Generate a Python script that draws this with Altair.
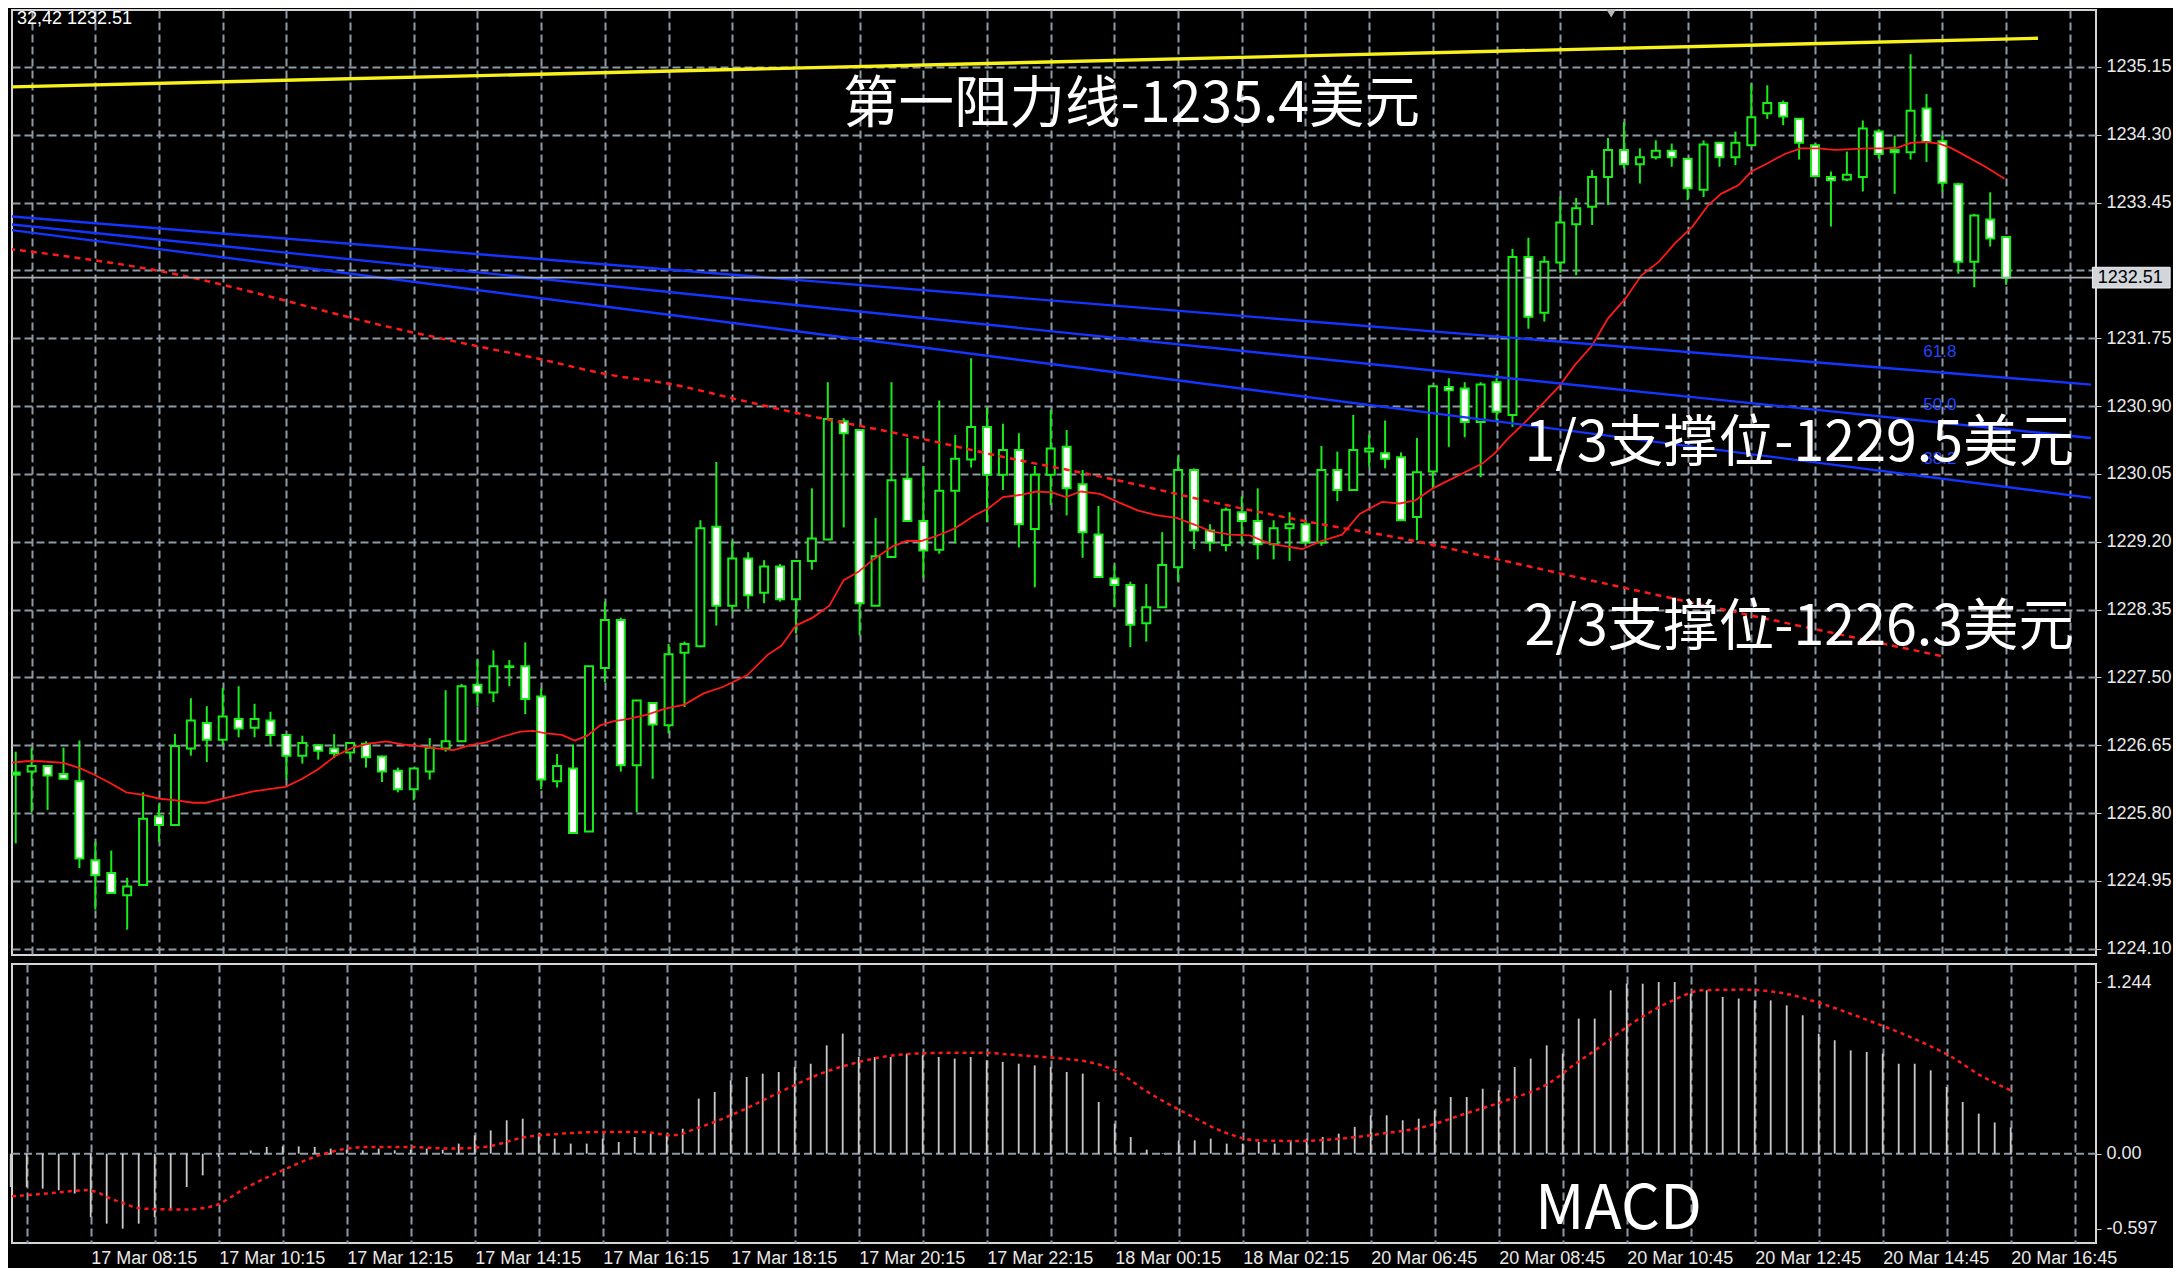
import altair as alt
import pandas as pd

# ---------------- data ----------------
opens = [1226.31,1226.32,1226.39,1226.29,1226.20,1225.21,1225.05,1224.77,1224.90,1225.76,
         1225.65,1226.61,1226.93,1226.72,1226.98,1226.87,1226.96,1226.78,1226.52,1226.65,
         1226.61,1226.56,1226.67,1226.51,1226.33,1226.10,1226.32,1226.61,1226.70,1227.41,
         1227.31,1227.64,1227.64,1227.26,1226.20,1226.36,1225.57,1227.62,1228.22,1226.40,
         1227.18,1226.90,1227.81,1227.89,1229.39,1228.40,1228.99,1228.56,1228.89,1228.48,
         1228.96,1229.23,1230.71,1230.60,1228.40,1229.01,1229.99,1229.46,1229.10,1229.84,
         1230.23,1230.64,1230.04,1230.35,1229.36,1230.04,1230.39,1229.92,1229.29,1228.74,
         1228.66,1228.18,1228.38,1228.88,1230.10,1229.34,1229.16,1229.57,1229.46,1229.17,
         1229.37,1229.42,1229.19,1230.10,1229.85,1230.33,1230.31,1230.26,1229.51,1230.08,
         1231.14,1231.12,1230.70,1231.20,1230.79,1232.77,1232.07,1232.70,1233.18,1233.40,
         1233.77,1234.11,1233.93,1234.02,1234.10,1234.00,1233.61,1234.20,1234.02,1234.17,
         1234.57,1234.70,1234.50,1234.17,1233.77,1233.74,1233.77,1234.34,1234.11,1234.08,
         1234.63,1234.22,1233.68,1232.71,1233.24,1233.02]
highs = [1226.57,1226.62,1226.40,1226.62,1226.71,1225.44,1225.33,1224.99,1226.06,1225.91,
         1226.79,1227.24,1227.14,1227.37,1227.39,1227.17,1227.07,1226.78,1226.77,1226.66,
         1226.79,1226.69,1226.70,1226.52,1226.37,1226.37,1226.74,1227.34,1227.42,1227.72,
         1227.84,1227.72,1227.94,1227.36,1226.54,1226.66,1227.64,1228.45,1228.25,1227.22,
         1227.19,1227.92,1227.95,1229.47,1230.20,1229.21,1229.07,1228.97,1228.92,1228.96,
         1229.87,1231.20,1230.75,1230.61,1229.50,1231.20,1230.50,1230.15,1230.97,1230.54,
         1231.50,1230.88,1230.68,1230.56,1230.15,1230.85,1230.60,1230.10,1229.65,1228.91,
         1228.70,1228.67,1229.32,1230.27,1230.12,1229.42,1229.63,1229.77,1229.87,1229.47,
         1229.57,1229.47,1230.40,1230.33,1230.79,1230.54,1230.72,1230.32,1230.50,1231.16,
         1231.25,1231.20,1231.20,1231.30,1232.87,1233.01,1232.78,1233.52,1233.51,1233.86,
         1234.26,1234.46,1234.13,1234.23,1234.19,1234.01,1234.23,1234.21,1234.34,1234.94,
         1234.92,1234.73,1234.50,1234.19,1233.84,1234.09,1234.48,1234.37,1234.29,1235.31,
         1234.81,1234.29,1233.70,1233.31,1233.58,1233.03]
lows = [1225.42,1225.81,1225.84,1226.23,1225.11,1224.59,1224.79,1224.34,1224.89,1225.44,
        1225.64,1226.52,1226.44,1226.65,1226.75,1226.75,1226.65,1226.22,1226.42,1226.47,
        1226.49,1226.48,1226.37,1226.19,1226.06,1225.96,1226.22,1226.57,1226.69,1227.14,
        1227.19,1227.39,1227.04,1226.10,1226.12,1225.54,1225.57,1227.44,1226.32,1225.81,
        1226.23,1226.80,1227.13,1227.88,1228.15,1228.33,1228.36,1228.43,1228.45,1228.05,
        1228.85,1229.22,1229.38,1228.03,1228.40,1229.00,1229.46,1228.75,1229.05,1229.18,
        1230.13,1229.45,1229.85,1229.13,1228.63,1229.66,1229.53,1229.00,1228.76,1228.38,
        1227.88,1227.95,1228.38,1228.70,1229.11,1229.08,1229.08,1229.16,1228.98,1228.98,
        1228.96,1229.18,1229.15,1229.71,1229.85,1230.14,1230.12,1229.46,1229.22,1229.87,
        1230.39,1230.51,1230.01,1230.72,1230.64,1231.87,1231.96,1232.57,1232.54,1233.17,
        1233.42,1233.88,1233.69,1233.99,1233.90,1233.48,1233.52,1233.90,1233.92,1234.16,
        1234.50,1234.42,1233.99,1233.77,1233.15,1233.72,1233.59,1234.00,1233.56,1233.99,
        1233.96,1233.59,1232.56,1232.39,1232.90,1232.42]
closes = [1226.28,1226.39,1226.27,1226.23,1225.23,1225.02,1224.80,1224.88,1225.73,1225.65,
          1226.64,1226.96,1226.72,1227.01,1226.86,1226.98,1226.78,1226.52,1226.68,1226.58,
          1226.55,1226.68,1226.50,1226.32,1226.10,1226.36,1226.62,1226.70,1227.39,1227.31,
          1227.64,1227.63,1227.23,1226.22,1226.39,1225.55,1227.64,1228.22,1226.40,1227.21,
          1226.91,1227.79,1227.92,1229.37,1228.40,1228.99,1228.53,1228.89,1228.48,1228.96,
          1229.24,1230.74,1230.56,1228.43,1229.02,1229.97,1229.46,1229.09,1229.84,1230.24,
          1230.64,1230.04,1230.35,1229.42,1230.04,1230.37,1229.87,1229.32,1228.76,1228.66,
          1228.16,1228.38,1228.91,1230.10,1229.34,1229.19,1229.60,1229.46,1229.17,1229.37,
          1229.42,1229.19,1230.10,1229.85,1230.35,1230.37,1230.24,1229.47,1230.07,1231.15,
          1231.10,1230.70,1231.17,1230.83,1232.77,1232.02,1232.71,1233.20,1233.38,1233.77,
          1234.11,1233.93,1234.02,1234.10,1234.02,1233.63,1234.18,1234.02,1234.20,1234.52,
          1234.70,1234.53,1234.20,1233.78,1233.73,1233.80,1234.38,1234.06,1234.08,1234.60,
          1234.21,1233.70,1232.71,1233.29,1233.00,1232.51]

# short moving average (solid red) sampled along the curve
ma_x = [-0.42,0.63,1.56,3.0,4.06,4.84,5.9,6.95,8.0,9.05,10.1,11.16,11.95,12.74,13.8,14.85,15.9,
        16.95,18.0,19.06,20.1,21.16,22.2,23.27,24.3,25.37,26.42,27.5,28.5,29.6,30.6,31.7,32.5,
        33.3,34.3,35.1,35.9,36.7,37.5,38.5,39.6,40.8,42.0,43.2,44.4,45.95,47.2,48.1,49.0,50.05,
        51.1,52.0,52.9,53.8,55.05,55.95,56.85,57.8,59.0,60.2,61.1,62.0,63.2,64.1,65.05,65.95,
        66.9,68.1,69.3,70.5,71.7,72.9,74.1,75.05,76.3,77.5,78.7,79.6,80.8,82.0,83.3,84.4,85.8,
        86.9,87.9,89.0,90.0,91.1,92.1,92.9,93.7,94.8,95.8,96.9,97.9,99.0,100.0,101.1,102.1,
        103.2,104.2,105.3,106.3,107.1,108.2,109.0,110.0,111.1,112.1,113.2,114.2,115.3,116.3,
        117.4,118.2,119.0,120.0,120.8,121.6,122.6,123.7,124.9]
ma_v = [1226.43,1226.45,1226.45,1226.43,1226.36,1226.29,1226.18,1226.06,1226.03,1225.98,1225.96,
        1225.93,1225.93,1225.97,1226.02,1226.07,1226.10,1226.13,1226.23,1226.36,1226.52,1226.62,
        1226.67,1226.70,1226.66,1226.64,1226.61,1226.59,1226.65,1226.69,1226.76,1226.82,1226.83,
        1226.80,1226.78,1226.71,1226.77,1226.90,1226.95,1226.98,1227.03,1227.11,1227.16,1227.30,
        1227.38,1227.53,1227.78,1227.90,1228.15,1228.25,1228.40,1228.72,1228.82,1228.97,1229.14,
        1229.21,1229.21,1229.27,1229.37,1229.53,1229.62,1229.76,1229.79,1229.83,1229.82,1229.76,
        1229.83,1229.80,1229.69,1229.59,1229.53,1229.50,1229.41,1229.33,1229.29,1229.28,1229.18,
        1229.15,1229.11,1229.21,1229.29,1229.55,1229.70,1229.68,1229.72,1229.87,1229.97,1230.08,
        1230.18,1230.31,1230.49,1230.70,1230.91,1231.14,1231.41,1231.66,1232.00,1232.25,1232.54,
        1232.71,1232.94,1233.15,1233.42,1233.56,1233.67,1233.84,1233.94,1234.06,1234.13,1234.13,
        1234.11,1234.12,1234.13,1234.13,1234.14,1234.20,1234.21,1234.19,1234.13,1234.02,1233.90,
        1233.75]

# long moving average (dashed red)
lma_x = [-0.42,8.3,24.8,28.8,32.9,37.1,41.3,45.4,49.6,55.8,62.1,68.3,76.0,82.0,87.1,93.3,97.5,120.9]
lma_v = [1232.87,1232.62,1231.83,1231.66,1231.49,1231.30,1231.17,1230.98,1230.79,1230.54,1230.26,
         1230.01,1229.66,1229.42,1229.24,1228.97,1228.78,1227.77]

# Fibonacci fan lines (start / end)
fan_names = ["61.8", "50.0", "38.2"]
fan_x = [-0.42, 130.33]
fan_start = [1233.28, 1233.18, 1233.11]
fan_end = [1231.17, 1230.50, 1229.75]
fan_label_x = 119.8
fan_label_y = [1231.58, 1230.91, 1230.24]

# resistance line (yellow)
res_x = [-0.42, 127.0]
res_v = [1234.90, 1235.51]

last_price = 1232.51

# MACD histogram
macd_hist = [-0.241,-0.241,-0.253,-0.265,-0.289,-0.459,-0.507,-0.543,-0.507,-0.459,
             -0.410,-0.241,-0.157,-0.024,0.005,0.024,0.049,0.053,0.053,0.049,
             0.037,0.029,0.024,0.037,0.024,0.029,0.037,0.029,0.073,0.133,
             0.169,0.242,0.254,0.145,0.109,0.073,0.073,0.109,0.085,0.121,
             0.145,0.133,0.181,0.399,0.447,0.532,0.556,0.580,0.592,0.628,
             0.652,0.785,0.870,0.701,0.701,0.701,0.725,0.713,0.701,0.689,
             0.701,0.677,0.665,0.652,0.640,0.628,0.592,0.580,0.375,0.218,
             0.121,0.029,0.005,0.097,0.097,0.109,0.073,0.073,0.085,0.073,
             0.097,0.109,0.121,0.145,0.194,0.278,0.278,0.242,0.254,0.314,
             0.411,0.411,0.471,0.459,0.628,0.689,0.785,0.725,0.979,0.979,
             1.184,1.232,1.232,1.244,1.244,1.160,1.184,1.136,1.124,1.111,
             1.111,1.075,1.003,0.870,0.822,0.749,0.737,0.725,0.652,0.652,
             0.604,0.483,0.375,0.290,0.226,0.190]
sig_x = [-0.42,2.19,4.8,6.54,8.28,10.9,12.6,14.8,17.0,19.6,22.2,24.8,27.4,29.6,32.2,34.4,37.0,
         39.6,41.3,43.1,45.7,48.3,50.9,52.6,55.2,57.8,60.4,63.1,65.7,67.4,69.2,70.9,73.5,76.1,
         77.8,80.5,83.1,85.7,88.3,90.9,93.5,96.1,97.8,99.6,101.3,103.9,105.7,108.3,110.9,113.5,
         116.1,118.7,121.3,123.1,125.0]
sig_v = [-0.314,-0.289,-0.265,-0.338,-0.398,-0.405,-0.381,-0.241,-0.120,0.0,0.049,0.049,0.037,
         0.049,0.121,0.145,0.157,0.157,0.133,0.193,0.314,0.459,0.592,0.652,0.713,0.730,0.732,
         0.713,0.689,0.664,0.592,0.459,0.290,0.145,0.097,0.092,0.109,0.145,0.193,0.290,0.387,
         0.508,0.652,0.797,0.942,1.111,1.184,1.189,1.160,1.075,0.966,0.846,0.701,0.568,0.459]

time_labels = ["17 Mar 08:15", "17 Mar 10:15", "17 Mar 12:15", "17 Mar 14:15", "17 Mar 16:15",
               "17 Mar 18:15", "17 Mar 20:15", "17 Mar 22:15", "18 Mar 00:15", "18 Mar 02:15",
               "20 Mar 06:45", "20 Mar 08:45", "20 Mar 10:45", "20 Mar 12:45", "20 Mar 14:45",
               "20 Mar 16:45"]
price_ticks = [1224.10, 1224.95, 1225.80, 1226.65, 1227.50, 1228.35, 1229.20, 1230.05,
               1230.90, 1231.75, 1232.60, 1233.45, 1234.30, 1235.15]
hidden_tick = 1232.60          # label covered by the bid tag in the reference
macd_max, macd_min = 1.244, -0.597
macd_min_label_pos = -0.545   # MT4 lifts the bottom label inside the pane

annotations = [
    {"x": 51.95, "y": 1234.675, "t": "第一阻力线-1235.4美元"},
    {"x": 94.75, "y": 1230.42, "t": "1/3支撑位-1229.5美元"},
    {"x": 94.75, "y": 1228.12, "t": "2/3支撑位-1226.3美元"},
]

# ---------------- layout / style ----------------
W = 2084
H_MAIN = 945
H_MACD = 279
X_DOM = [0.081, 130.331]
Y_DOM = [1224.022, 1235.864]
M_DOM = [-0.6471, 1.3746]
GRID = "#8d9aa6"
GREEN = "#1aeb1a"
BIG_FONT = "Noto Sans CJK SC"
AX_FONT = "Liberation Sans"
AX_SIZE = 18
grid_vals = list(range(1, 131, 4))

n = min(len(opens), len(highs), len(lows), len(closes))
cdf = pd.DataFrame({"i": list(range(n)), "o": opens[:n], "h": highs[:n], "l": lows[:n], "c": closes[:n]})
cdf["fill"] = ["white" if c < o else "black" for o, c in zip(cdf.o, cdf.c)]

def X(field):
    return alt.X(field, scale=alt.Scale(domain=X_DOM, nice=False, zero=False),
                 axis=alt.Axis(values=grid_vals, grid=True, gridDash=[8, 4], gridColor=GRID, gridWidth=2,
                               labels=False, ticks=False, domain=False, title=None))
def Y(field):
    return alt.Y(field, scale=alt.Scale(domain=Y_DOM, nice=False, zero=False),
                 axis=alt.Axis(orient="right", values=price_ticks, grid=True,
                               gridDash=[8, 4], gridColor=GRID, gridWidth=2, ticks=True, tickSize=5,
                               tickColor="#d0d0d0", domain=False, labelColor="#e8e8e8",
                               labelFont=AX_FONT, labelFontSize=AX_SIZE, labelPadding=5, title=None,
                               labelExpr="abs(datum.value - %.2f) < 0.001 ? '' : format(datum.value, '.2f')"
                                         % hidden_tick))

wicks = alt.Chart(cdf).mark_rule(color=GREEN, strokeWidth=2, clip=True).encode(
    x=X("i:Q"), y=Y("l:Q"), y2="h:Q")
bodies = alt.Chart(cdf).mark_bar(size=8, stroke=GREEN, strokeWidth=2, clip=True).encode(
    x=X("i:Q"), y=Y("o:Q"), y2="c:Q", fill=alt.Fill("fill:N", scale=None))

m = min(len(ma_x), len(ma_v))
ma_df = pd.DataFrame({"x": ma_x[:m], "v": ma_v[:m]})
ma_line = alt.Chart(ma_df).mark_line(color="#ff1a1a", strokeWidth=1.8, clip=True).encode(
    x=X("x:Q"), y=Y("v:Q"), order="x:Q")

lma_df = pd.DataFrame({"x": lma_x, "v": lma_v})
lma_line = alt.Chart(lma_df).mark_line(color="#ff1a1a", strokeWidth=2.5, strokeDash=[6, 5],
                                        clip=True, interpolate="monotone").encode(
    x=X("x:Q"), y=Y("v:Q"), order="x:Q")

fan_rows = []
for k, name in enumerate(fan_names):
    fan_rows.append({"x": fan_x[0], "v": fan_start[k], "s": name})
    fan_rows.append({"x": fan_x[1], "v": fan_end[k], "s": name})
fan_df = pd.DataFrame(fan_rows)
fan_lines = alt.Chart(fan_df).mark_line(color="#1434ff", strokeWidth=2.4, clip=True).encode(
    x=X("x:Q"), y=Y("v:Q"), detail="s:N", order="x:Q")
fan_lab_df = pd.DataFrame({"x": [fan_label_x] * 3, "v": fan_label_y, "t": fan_names})
fan_labels = alt.Chart(fan_lab_df).mark_text(color="#2244ff", fontSize=17, font=AX_FONT,
                                              align="left", baseline="middle").encode(
    x=X("x:Q"), y=Y("v:Q"), text="t:N")

res_df = pd.DataFrame({"x": res_x, "v": res_v})
res_line = alt.Chart(res_df).mark_line(color="#f8f21a", strokeWidth=3.4, clip=True).encode(
    x=X("x:Q"), y=Y("v:Q"))

price_df = pd.DataFrame({"v": [last_price]})
price_line = alt.Chart(price_df).mark_rule(color="#a8b0b8", strokeWidth=1.6).encode(y=Y("v:Q"))

# bid price tag on the price scale
tag_df = pd.DataFrame({"x0": [130.42], "x1": [135.3], "v0": [last_price - 0.13], "v1": [last_price + 0.13],
                       "xt": [130.75], "v": [last_price], "t": [f"{last_price:.2f}"]})
tag_box = alt.Chart(tag_df).mark_rect(fill="#d2d6da", stroke="#f0f0f0", strokeWidth=1).encode(
    x=X("x0:Q"), x2="x1:Q", y=Y("v0:Q"), y2="v1:Q")
tag_txt = alt.Chart(tag_df).mark_text(color="black", fontSize=AX_SIZE, font=AX_FONT, align="left",
                                       baseline="middle").encode(x=X("xt:Q"), y=Y("v:Q"), text="t:N")

ann_df = pd.DataFrame(annotations)
ann = alt.Chart(ann_df).mark_text(color="white", fontSize=55.5, font=BIG_FONT, align="left",
                                   baseline="middle").encode(x=X("x:Q"), y=Y("y:Q"), text="t:N")

corner_df = pd.DataFrame({"x": [X_DOM[0]], "v": [1235.75], "t": ["32,42 1232.51"]})
corner = alt.Chart(corner_df).mark_text(color="white", fontSize=AX_SIZE, font=AX_FONT, align="left",
                                         baseline="middle").encode(x=X("x:Q"), y=Y("v:Q"), text="t:N")

tri_df = pd.DataFrame({"x": [100.2], "v": [1235.82]})
tri = alt.Chart(tri_df).mark_point(shape="triangle-down", filled=True, color="#b8b8b8", size=90,
                                   opacity=1).encode(x=X("x:Q"), y=Y("v:Q"))

main = alt.layer(wicks, bodies, ma_line, lma_line, fan_lines, res_line, price_line,
                 fan_labels, ann, corner, tri, tag_box, tag_txt).properties(width=W, height=H_MAIN)

# ---------------- MACD panel ----------------
label_js = "[" + ",".join("'" + s + "'" for s in time_labels) + "]"
def XM(field):
    return alt.X(field, scale=alt.Scale(domain=X_DOM, nice=False, zero=False),
                 axis=alt.Axis(values=grid_vals, grid=True, gridDash=[8, 4], gridColor=GRID, gridWidth=2,
                               ticks=False, domain=False, title=None, labelAlign="left",
                               labelBaseline="top", labelPadding=6, labelFlush=False,
                               labelOverlap=False, labelColor="#e8e8e8", labelFont=AX_FONT,
                               labelFontSize=AX_SIZE,
                               labelExpr="(datum.value - 5) % 8 == 0 && datum.value >= 5 ? "
                                         + label_js + "[(datum.value - 5) / 8] : ''"))
def YM(field):
    return alt.Y(field, scale=alt.Scale(domain=M_DOM, nice=False, zero=False),
                 axis=alt.Axis(orient="right", values=[macd_max, 0.0, macd_min_label_pos], grid=False,
                               ticks=True, tickSize=5, tickColor="#d0d0d0", domain=False,
                               labelColor="#e8e8e8", labelFont=AX_FONT, labelFontSize=AX_SIZE,
                               labelPadding=5, title=None,
                               labelExpr="datum.value == 0 ? '0.00' : (datum.value > 0 ? '%.3f' : '%.3f')"
                                         % (macd_max, macd_min)))

hist_df = pd.DataFrame({"i": list(range(len(macd_hist))), "v": macd_hist, "z": [0.0] * len(macd_hist)})
hist = alt.Chart(hist_df).mark_rule(color="#c8c8c8", strokeWidth=1.8).encode(
    x=XM("i:Q"), y=YM("v:Q"), y2="z:Q")
zero_df = pd.DataFrame({"v": [0.0]})
zero = alt.Chart(zero_df).mark_rule(color=GRID, strokeWidth=2, strokeDash=[8, 4]).encode(y=YM("v:Q"))
s = min(len(sig_x), len(sig_v))
sig_df = pd.DataFrame({"x": sig_x[:s], "v": sig_v[:s]})
sig = alt.Chart(sig_df).mark_line(color="#ff1a1a", strokeWidth=2.5, strokeDash=[4, 4], clip=True,
                                  interpolate="monotone").encode(x=XM("x:Q"), y=YM("v:Q"), order="x:Q")
macd_txt_df = pd.DataFrame({"x": [95.27], "v": [-0.415], "t": ["MACD"]})
macd_txt = alt.Chart(macd_txt_df).mark_text(color="white", fontSize=61, font=BIG_FONT, align="left",
                                             baseline="middle").encode(x=XM("x:Q"), y=YM("v:Q"), text="t:N")

macd = alt.layer(zero, hist, sig, macd_txt).properties(width=W, height=H_MACD)

chart = alt.vconcat(main, macd, spacing=4).properties(
    padding={"left": 0, "top": 0, "right": 0, "bottom": 0}
).configure(background="black").configure_view(stroke="#d4d4d4", strokeWidth=2)

chart.save("out.html", embed_options={"renderer": "svg", "actions": False})
